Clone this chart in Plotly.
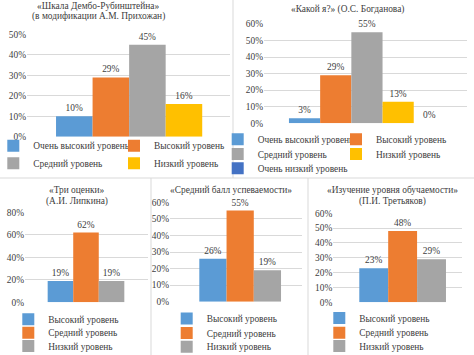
import plotly.graph_objects as go

W, H = 474, 355

# ---------------- data ----------------
p1_levels = ["Очень высокий уровень", "Высокий уровень", "Средний уровень", "Низкий уровень"]
p1_values = [0.10, 0.29, 0.45, 0.16]

p2_levels = ["Очень высокий уровень", "Высокий уровень", "Средний уровень", "Низкий уровень",
             "Очень низкий уровень"]
p2_values = [0.03, 0.29, 0.55, 0.13, 0.00]

p3_levels = ["Высокий уровень", "Средний уровень", "Низкий уровень"]
p3_values = [0.19, 0.62, 0.19]

p4_levels = ["Высокий уровень", "Средний уровень", "Низкий уровень"]
p4_values = [0.26, 0.55, 0.19]

p5_levels = ["Высокий уровень", "Средний уровень", "Низкий уровень"]
p5_values = [0.23, 0.48, 0.29]

p1_title = ["«Шкала Дембо-Рубинштейна»", "(в модификации А.М. Прихожан)"]
p2_title = ["«Какой я?» (О.С. Богданова)"]
p3_title = ["«Три оценки»", "(А.И. Липкина)"]
p4_title = ["«Средний балл успеваемости»"]
p5_title = ["«Изучение уровня обучаемости»", "(П.И. Третьяков)"]

p1_ticks = [0, 0.1, 0.2, 0.3, 0.4, 0.5]
p2_ticks = [0, 0.1, 0.2, 0.3, 0.4, 0.5, 0.6]
p3_ticks = [0, 0.2, 0.4, 0.6, 0.8]
p4_ticks = [0, 0.1, 0.2, 0.3, 0.4, 0.5, 0.6]
p5_ticks = [0, 0.1, 0.2, 0.3, 0.4, 0.5, 0.6]

# ---------------- style ----------------
BLUE, ORANGE, GREY, YELLOW, DBLUE = "#5B9BD5", "#ED7D31", "#A5A5A5", "#FFC000", "#4472C4"
FONT = "Liberation Serif"
FS = 9.4
TXT = "#404040"
GRID = "#D9D9D9"

def px_x(v):
    return v / W

def px_y(v):
    return 1 - v / H

panels = [
    dict(levels=p1_levels, values=p1_values, colors=[BLUE, ORANGE, GREY, YELLOW], ticks=p1_ticks,
         title=p1_title, tx=98, ty=[6, 16],
         plot=(27, 230, 34.5, 136.7), xr=(-0.489, 0.483),
         rows=[[0, 1], [2, 3]], row_y=[145.7, 163.3], text_x=33.3, col_w=75.7),
    dict(levels=p2_levels, values=p2_values, colors=[BLUE, ORANGE, GREY, YELLOW, DBLUE], ticks=p2_ticks,
         title=p2_title, tx=347, ty=[9.3],
         plot=(264, 467, 24, 123.3), xr=(-0.462, 0.449),
         rows=[[0, 1], [2, 3], [4]], row_y=[139.3, 154, 168.3], text_x=257.7, col_w=73.3),
    dict(levels=p3_levels, values=p3_values, colors=[BLUE, ORANGE, GREY], ticks=p3_ticks,
         title=p3_title, tx=77, ty=[190, 201],
         plot=(25, 148.3, 212.3, 302.3), xr=(-0.557, 0.569),
         rows=[[0], [1], [2]], row_y=[319.3, 332.7, 346], text_x=48.3, col_w=0),
    dict(levels=p4_levels, values=p4_values, colors=[BLUE, ORANGE, GREY], ticks=p4_ticks,
         title=p4_title, tx=231, ty=[190],
         plot=(170, 301.7, 202.3, 301.7), xr=(-0.601, 0.527),
         rows=[[0], [1], [2]], row_y=[318.5, 333, 346.7], text_x=206.7, col_w=0),
    dict(levels=p5_levels, values=p5_values, colors=[BLUE, ORANGE, GREY], ticks=p5_ticks,
         title=p5_title, tx=392, ty=[190, 201],
         plot=(333.3, 461.7, 213.3, 302.3), xr=(-0.56, 0.477),
         rows=[[0], [1], [2]], row_y=[318, 332.7, 346], text_x=359.3, col_w=0),
]

fig = go.Figure()
layout = dict(
    width=W, height=H, margin=dict(l=0, r=0, t=0, b=0, autoexpand=False),
    paper_bgcolor="white", plot_bgcolor="white",
    barmode="group", bargap=0.3, bargroupgap=0,
    font=dict(family=FONT, size=FS, color=TXT),
    showlegend=True,
)
annotations = []
legend_n = 0

for i, p in enumerate(panels):
    n = i + 1
    xa = "x" if n == 1 else f"x{n}"
    ya = "y" if n == 1 else f"y{n}"
    xl, xr_, yt, yb = p["plot"]
    trace_legend = {}
    trace_lw = {}
    for r, row in enumerate(p["rows"]):
        legend_n += 1
        lname = "legend" if legend_n == 1 else f"legend{legend_n}"
        for k, ti in enumerate(row):
            trace_legend[ti] = lname
            if len(row) > 1 and k == 0:
                trace_lw[ti] = p["col_w"]
        layout[lname] = dict(
            orientation="h", x=px_x(p["text_x"] - 40), y=px_y(p["row_y"][r]),
            xanchor="left", yanchor="middle", bgcolor="rgba(0,0,0,0)",
            font=dict(family=FONT, size=FS, color=TXT),
            itemclick=False, itemdoubleclick=False, tracegroupgap=0,
        )
    for ti, (lev, val, col) in enumerate(zip(p["levels"], p["values"], p["colors"])):
        kw = {}
        if ti in trace_lw:
            kw["legendwidth"] = trace_lw[ti]
        fig.add_trace(go.Bar(
            x=[0], y=[val], name=lev, marker=dict(color=col, line=dict(width=0)),
            xaxis=xa, yaxis=ya, legend=trace_legend[ti],
            texttemplate="%{y:.0%}", textposition="outside", cliponaxis=False,
            textfont=dict(family=FONT, size=FS, color=TXT),
            offsetgroup=str(ti), hoverinfo="skip", **kw,
        ))
    xkey = "xaxis" if n == 1 else f"xaxis{n}"
    ykey = "yaxis" if n == 1 else f"yaxis{n}"
    layout[xkey] = dict(domain=[px_x(xl), px_x(xr_)], range=list(p["xr"]), anchor=ya,
                        showticklabels=False, showgrid=False, zeroline=False, showline=False,
                        fixedrange=True)
    layout[ykey] = dict(domain=[px_y(yb), px_y(yt)], range=[0, p["ticks"][-1]], anchor=xa,
                        tickvals=p["ticks"], tickformat=".0%", showgrid=True, gridcolor=GRID,
                        gridwidth=1, zeroline=False, showline=False, ticks="",
                        tickfont=dict(family=FONT, size=FS, color=TXT), fixedrange=True)
    for line, yy in zip(p["title"], p["ty"]):
        annotations.append(dict(text=line, x=px_x(p["tx"]), y=px_y(yy), xref="paper", yref="paper",
                                xanchor="center", yanchor="middle", showarrow=False,
                                font=dict(family=FONT, size=FS, color=TXT)))

shapes = [
    dict(type="line", xref="paper", yref="paper", x0=px_x(233), x1=px_x(233), y0=px_y(0), y1=px_y(178),
         line=dict(color=GRID, width=1)),
    dict(type="line", xref="paper", yref="paper", x0=0, x1=1, y0=px_y(178), y1=px_y(178),
         line=dict(color=GRID, width=1)),
    dict(type="line", xref="paper", yref="paper", x0=px_x(151), x1=px_x(151), y0=px_y(178), y1=0,
         line=dict(color=GRID, width=1)),
    dict(type="line", xref="paper", yref="paper", x0=px_x(308), x1=px_x(308), y0=px_y(178), y1=0,
         line=dict(color=GRID, width=1)),
]
layout["annotations"] = annotations
layout["shapes"] = shapes
fig.update_layout(**layout)
fig.write_html("out.html", config={"displayModeBar": False},
               post_script="document.body.style.margin='0px';")
